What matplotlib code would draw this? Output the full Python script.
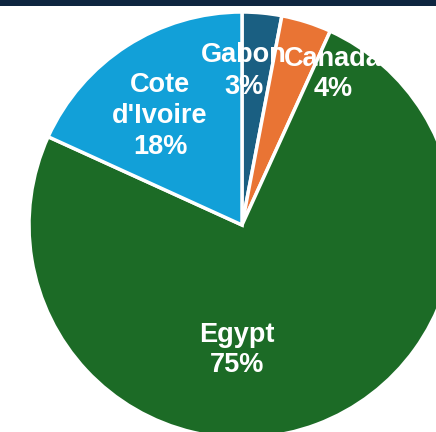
import matplotlib
matplotlib.use("Agg")
import matplotlib.pyplot as plt
from matplotlib.patches import Rectangle

countries = ["Gabon", "Canada", "Egypt", "Cote\nd'Ivoire"]
values = [3.0, 3.8, 75.0, 18.2]
pct_labels = ["3%", "4%", "75%", "18%"]
colors = ["#1a5f82", "#e97434", "#1c6b26", "#12a0d8"]

W, H = 436, 432
cx, cy, R = 242, 225, 213

fig = plt.figure(figsize=(W / 100, H / 100), dpi=100)
ax = fig.add_axes([0, 0, 1, 1])
ax.pie(values, colors=colors, startangle=90, counterclock=False, radius=1,
       wedgeprops=dict(edgecolor="white", linewidth=2.5))
ax.set_xlim(-cx / R, (W - cx) / R)
ax.set_ylim((cy - H) / R, cy / R)
ax.set_aspect("equal")
ax.axis("off")

# label positions in pixel coords (centre of text block)
label_px = [(244, 71), (333, 74), (237, 350), (160, 116)]
for name, pct, (px, py) in zip(countries, pct_labels, label_px):
    ax.text((px - cx) / R, (cy - py) / R, f"{name}\n{pct}", ha="center", va="center",
            color="white", fontsize=19.5, fontweight="bold", family="Liberation Sans",
            linespacing=1.25)

fig.patches.append(Rectangle((0, 1 - 6 / H), 1, 6 / H, transform=fig.transFigure,
                             facecolor="#0e2640", edgecolor="none", zorder=10))

fig.savefig("out.png", dpi=100)
